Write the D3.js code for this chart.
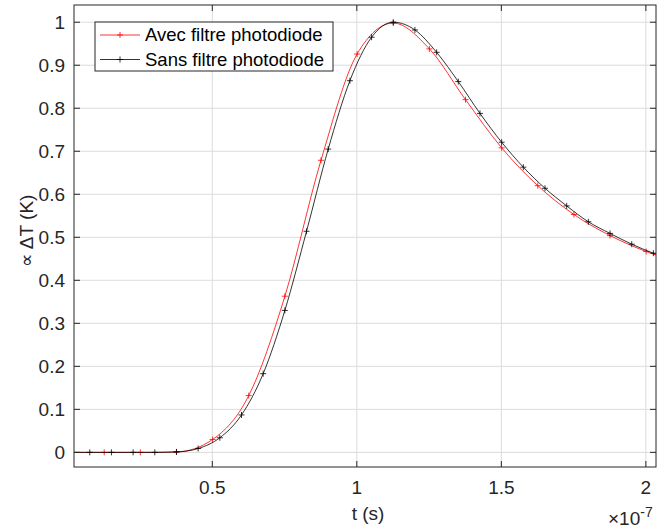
<!DOCTYPE html>
<html><head><meta charset="utf-8">
<script src="https://cdn.jsdelivr.net/npm/d3@7"></script>
<style>
html,body{margin:0;padding:0;background:#fff;}
text{font-family:"Liberation Sans",Arial,Helvetica,sans-serif;fill:#262626;}
</style></head>
<body><svg id="c" width="657" height="531"></svg>
<script>
// time in units of 1e-7 s
const tSans = [0.001,0.076,0.151,0.226,0.301,0.376,0.451,0.526,0.601,0.676,0.751,0.826,0.901,0.976,1.051,1.126,1.201,1.276,1.351,1.426,1.501,1.576,1.651,1.726,1.801,1.876,1.951,2.026,2.101];
const ySans = [0,0,0,0,0,0.001,0.009,0.034,0.087,0.183,0.330,0.514,0.705,0.864,0.965,1.0,0.982,0.930,0.862,0.788,0.721,0.663,0.614,0.573,0.536,0.509,0.484,0.463,0.445];
const tAvec = [0.001,0.126,0.251,0.376,0.501,0.626,0.751,0.876,1.001,1.126,1.251,1.376,1.501,1.626,1.751,1.876,2.001,2.126];
const yAvec = [0,0,0,0.001,0.030,0.132,0.363,0.679,0.926,0.998,0.938,0.820,0.708,0.620,0.553,0.504,0.467,0.440];
const xTicks = [0.5,1,1.5,2];
const yTicks = [0,0.1,0.2,0.3,0.4,0.5,0.6,0.7,0.8,0.9,1];
const seriesNames = ["Avec filtre photodiode","Sans filtre photodiode"];
const seriesColors = ["#ff0000","#000000"];

const svg = d3.select("#c");
const L=74, T=5, R=656, B=467;
const x = d3.scaleLinear().domain([0.0215,2.035]).range([L,R]);
const y = d3.scaleLinear().domain([-0.034,1.040]).range([B,T]);

// grid
const g = svg.append("g");
g.selectAll(".gx").data(xTicks).enter().append("line")
 .attr("x1",d=>x(d)).attr("x2",d=>x(d)).attr("y1",T).attr("y2",B)
 .attr("stroke","#dcdcdc").attr("stroke-width",1);
g.selectAll(".gy").data(yTicks).enter().append("line")
 .attr("y1",d=>y(d)).attr("y2",d=>y(d)).attr("x1",L).attr("x2",R)
 .attr("stroke","#dcdcdc").attr("stroke-width",1);

// clip
svg.append("clipPath").attr("id","clip").append("rect").attr("x",L).attr("y",T).attr("width",R-L).attr("height",B-T);
const plot = svg.append("g").attr("clip-path","url(#clip)");
const line = d3.line().x(d=>x(d[0])).y(d=>y(d[1])).curve(d3.curveMonotoneX);
const data = [d3.zip(tAvec,yAvec), d3.zip(tSans,ySans)];
data.forEach((ds,i)=>{
  plot.append("path").datum(ds).attr("d",line).attr("fill","none")
    .attr("stroke",seriesColors[i]).attr("stroke-width",0.8);
  const m = plot.selectAll(null).data(ds).enter().append("g")
    .attr("transform",d=>`translate(${x(d[0])},${y(d[1])})`);
  m.append("line").attr("x1",-3).attr("x2",3).attr("stroke",seriesColors[i]).attr("stroke-width",0.8);
  m.append("line").attr("y1",-3).attr("y2",3).attr("stroke",seriesColors[i]).attr("stroke-width",0.8);
});

// axes
const ax = svg.append("g").attr("stroke","#262626").attr("stroke-width",1).attr("fill","none");
ax.append("rect").attr("x",L).attr("y",T).attr("width",R-L).attr("height",B-T);
xTicks.forEach(v=>{
  ax.append("line").attr("x1",x(v)).attr("x2",x(v)).attr("y1",B).attr("y2",B-6);
  ax.append("line").attr("x1",x(v)).attr("x2",x(v)).attr("y1",T).attr("y2",T+6);
});
yTicks.forEach(v=>{
  ax.append("line").attr("y1",y(v)).attr("y2",y(v)).attr("x1",L).attr("x2",L+6);
  ax.append("line").attr("y1",y(v)).attr("y2",y(v)).attr("x1",R).attr("x2",R-6);
});
svg.selectAll(".xl").data(xTicks).enter().append("text")
  .attr("x",d=>x(d)).attr("y",494).attr("text-anchor","middle").attr("font-size",19)
  .text(d=>d3.format("")(d));
svg.selectAll(".yl").data(yTicks).enter().append("text")
  .attr("x",65).attr("y",d=>y(d)+7).attr("text-anchor","end").attr("font-size",19)
  .text(d=>d3.format("")(d));
svg.append("text").attr("x",368).attr("y",520).attr("text-anchor","middle").attr("font-size",19).text("t (s)");
const ex = svg.append("text").attr("x",608).attr("y",525).attr("font-size",19);
ex.append("tspan").text("×10");
ex.append("tspan").attr("dy",-8).attr("font-size",14).text("-7");
svg.append("text").attr("transform","translate(33,231) rotate(-90)").attr("text-anchor","middle").attr("font-size",19).text("∝  ΔT (K)");

// legend
const lg = svg.append("g");
lg.append("rect").attr("x",95).attr("y",22).attr("width",238).attr("height",49).attr("fill","#fff").attr("stroke","#262626").attr("stroke-width",1);
seriesNames.forEach((n,i)=>{
  const yy = 35+i*24.5;
  lg.append("line").attr("x1",100).attr("x2",140).attr("y1",yy).attr("y2",yy).attr("stroke",seriesColors[i]).attr("stroke-width",0.8);
  lg.append("line").attr("x1",117).attr("x2",123).attr("y1",yy).attr("y2",yy).attr("stroke",seriesColors[i]).attr("stroke-width",0.8);
  lg.append("line").attr("x1",120).attr("x2",120).attr("y1",yy-3).attr("y2",yy+3).attr("stroke",seriesColors[i]).attr("stroke-width",0.8);
  lg.append("text").attr("x",145).attr("y",yy+6).attr("font-size",18.5).style("fill","#000").text(n);
});
</script></body></html>
